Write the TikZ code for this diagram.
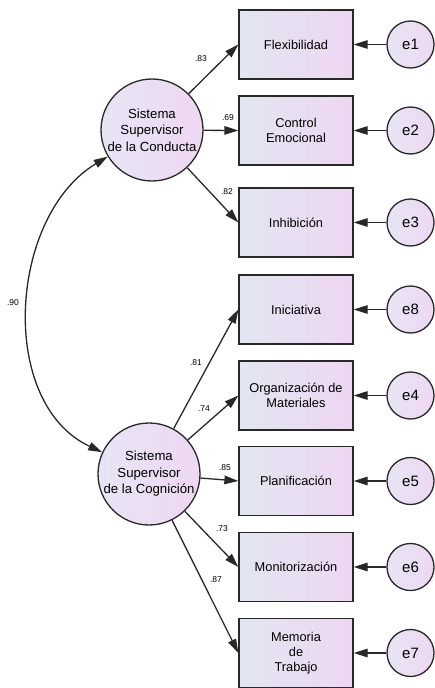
\documentclass[tikz,border=0pt]{standalone}
\usepackage{fontspec}
\setmainfont{Liberation Sans}
\usepackage{tikz}
\usetikzlibrary{shapes,arrows}
\usetikzlibrary{arrows.meta}
\definecolor{semline}{RGB}{40,40,40}
\definecolor{boxleft}{RGB}{226,230,240}
\definecolor{boxright}{RGB}{238,214,242}
\definecolor{circleft}{RGB}{232,228,244}
\definecolor{circright}{RGB}{238,216,242}
\tikzset{
  observed/.style={rectangle, draw=semline, line width=1.3pt, minimum width=114pt, minimum height=69pt, left color=boxleft, right color=boxright, align=center, font=\fontsize{12.8}{15}\selectfont},
  latent/.style={circle, draw=semline, line width=1.3pt, minimum size=102pt, inner sep=0pt, left color=circleft, right color=circright, align=center, font=\fontsize{13.2}{16.5}\selectfont},
  errorvar/.style={circle, draw=semline, line width=1.3pt, minimum size=47pt, inner sep=0pt, left color=circleft, right color=circright, font=\fontsize{15}{17}\selectfont},
  semarrow/.style={-{Triangle[length=14pt,width=8.5pt]}, line width=1.3pt, draw=semline},
  loadlabel/.style={font=\fontsize{8.5}{9}\selectfont, inner sep=0pt}
}
\newcommand{\semlatent}[3] {\node at (#1) (#2) [latent] {#3};}
\newcommand{\semobserved}[3] {\node at (#1) (#2) [observed] {#3};}
\newcommand{\semerror}[3] {\node at (#1) (#2) [errorvar] {#2}; \draw [semarrow] (#2) -- (#3);}
\newcommand{\semloading}[4] {\draw [semarrow] (#1) -- (#2.west); \node at (#4) (l#3) [loadlabel] {.#3};}
\begin{document}
\begin{tikzpicture}[x=1pt,y=1pt]
\useasboundingbox (0,0) rectangle (435,-688);
\semlatent {152,-130} {ssc} {Sistema\\Supervisor\\de la Conducta};
\semlatent {149,-474} {sscog} {Sistema\\Supervisor\\de la Cognición};

\semobserved {296,-44.5} {flex} {Flexibilidad};
\semobserved {296,-130.5} {ctrl} {Control\\Emocional};
\semobserved {296,-222.5} {inhib} {Inhibición};
\semobserved {296,-309.5} {inic} {Iniciativa};
\semobserved {296,-395.5} {organ} {Organización de\\Materiales};
\semobserved {296,-481} {plan} {Planificación};
\semobserved {296,-567} {monit} {Monitorización};
\semobserved {296,-653} {memo} {Memoria\\de\\Trabajo};

\semerror {410.5,-44.5} {e1} {flex};
\semerror {410.5,-130.5} {e2} {ctrl};
\semerror {410.5,-222.5} {e3} {inhib};
\semerror {410.5,-309.5} {e8} {inic};
\semerror {410.5,-395.5} {e4} {organ};
\semerror {410.5,-481} {e5} {plan};
\semerror {410.5,-567} {e6} {monit};
\semerror {410.5,-653} {e7} {memo};

\semloading {ssc} {flex} {83} {201,-59};
\semloading {ssc} {ctrl} {69} {228,-118};
\semloading {ssc} {inhib} {82} {227,-192};
\semloading {sscog} {inic} {81} {196,-363};
\semloading {sscog} {organ} {74} {204,-409};
\semloading {sscog} {plan} {85} {225,-468};
\semloading {sscog} {monit} {73} {222,-529};
\semloading {sscog} {memo} {87} {216,-580};

% covarianza
\draw [semarrow, {Triangle[length=14pt,width=8.5pt]}-{Triangle[length=14pt,width=8.5pt]}] (ssc.211) to[out=211, in=155] (sscog.155);
\node at (13,-303) (l90) [loadlabel] {.90};
\end{tikzpicture}
\end{document}
